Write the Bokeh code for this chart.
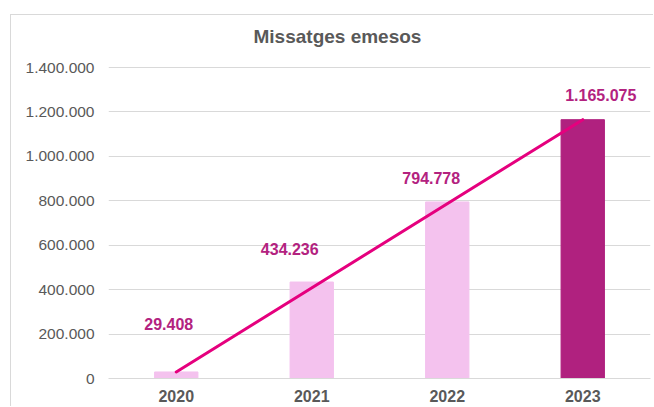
from bokeh.plotting import figure
from bokeh.models import ColumnDataSource, FixedTicker, Range1d, Label
from bokeh.core.properties import value
from bokeh.embed import file_html
from bokeh.resources import INLINE

# ---- data ----
years = ["2020", "2021", "2022", "2023"]
messages = [29408, 434236, 794778, 1165075]
bar_colors = ["#F4C2EE", "#F4C2EE", "#F4C2EE", "#B0217F"]
y_ticks = [0, 200000, 400000, 600000, 800000, 1000000, 1200000, 1400000]
y_tick_labels = ["0", "200.000", "400.000", "600.000", "800.000",
                 "1.000.000", "1.200.000", "1.400.000"]
title_text = "Missatges emesos"

# ---- label placement (pixel offsets, style only) ----
label_dx = [-7.5, -22, -16, 18]
label_dy = [-48, -33, -24, -25]

# ---- layout (pixels) ----
CANVAS_H = 392
BOTTOM_PANEL = 29
GRID_PX = 311          # pixel height from 0 to the top tick
FRAME_PX = CANVAS_H - BOTTOM_PANEL   # frame spans the full height above the axis


def fmt(v):
    return f"{v:,}".replace(",", ".")


xs = list(range(len(years)))
src = ColumnDataSource(dict(
    x=xs, y=messages, color=bar_colors,
    label=[fmt(v) for v in messages], dx=label_dx, dy=label_dy,
))

FONT = "Liberation Sans"
GRAY = "#595959"

x_range = Range1d(-0.5, len(years) - 0.5)
# the frame reaches the top of the chart area so that the title can sit in it;
# the value scale keeps the top tick at GRID_PX above zero
y_range = Range1d(y_ticks[0], y_ticks[-1] * FRAME_PX / GRID_PX)

p = figure(
    width=643, height=CANVAS_H,
    x_range=x_range, y_range=y_range,
    output_backend="svg", toolbar_location=None,
    min_border_left=97, min_border_right=4,
    min_border_top=0, min_border_bottom=BOTTOM_PANEL,
)
p.margin = (14, 0, 0, 10)
p.styles = {
    "border-top": "1px solid #D9D9D9",
    "border-left": "1px solid #D9D9D9",
}

p.vbar(x="x", top="y", width=0.32, color="color", source=src)
p.line(x=[xs[0], xs[-1]], y=[messages[0], messages[-1]],
       line_width=3, line_color="#E5007E", line_cap="round")
p.text(x="x", y="y", text="label", x_offset="dx", y_offset="dy",
       text_align="center", text_baseline="middle",
       text_font=value(FONT), text_font_style="bold",
       text_font_size="16px", text_color="#B3227F", source=src)

# chart title, anchored at the frame's top-left corner
p.add_layout(Label(
    x=x_range.start, y=y_range.end, x_offset=145, y_offset=-10,
    text=title_text, text_align="left", text_baseline="top",
    text_font=FONT, text_font_size="19px", text_font_style="bold",
    text_color=GRAY,
))

# axes
p.xaxis.ticker = FixedTicker(ticks=xs)
p.xaxis.major_label_overrides = {i: y for i, y in zip(xs, years)}
p.xaxis.major_label_text_font = FONT
p.xaxis.major_label_text_font_size = "16px"
p.xaxis.major_label_text_font_style = "bold"
p.xaxis.major_label_text_color = GRAY
p.xaxis.axis_line_color = "#D9D9D9"
p.xaxis.major_tick_line_color = None
p.xaxis.minor_tick_line_color = None
p.xaxis.major_tick_out = 0
p.xaxis.major_label_standoff = 11

p.yaxis.ticker = FixedTicker(ticks=y_ticks)
p.yaxis.major_label_overrides = {t: l for t, l in zip(y_ticks, y_tick_labels)}
p.yaxis.major_label_text_font = FONT
p.yaxis.major_label_text_font_size = "15.5px"
p.yaxis.major_label_text_color = GRAY
p.yaxis.axis_line_color = None
p.yaxis.major_tick_line_color = None
p.yaxis.minor_tick_line_color = None
p.yaxis.major_tick_out = 0
p.yaxis.major_label_standoff = 14

p.xgrid.grid_line_color = None
p.ygrid.grid_line_color = "#D9D9D9"
p.ygrid.grid_line_width = 1
p.outline_line_color = None

open("out.html", "w").write(file_html(p, INLINE))
